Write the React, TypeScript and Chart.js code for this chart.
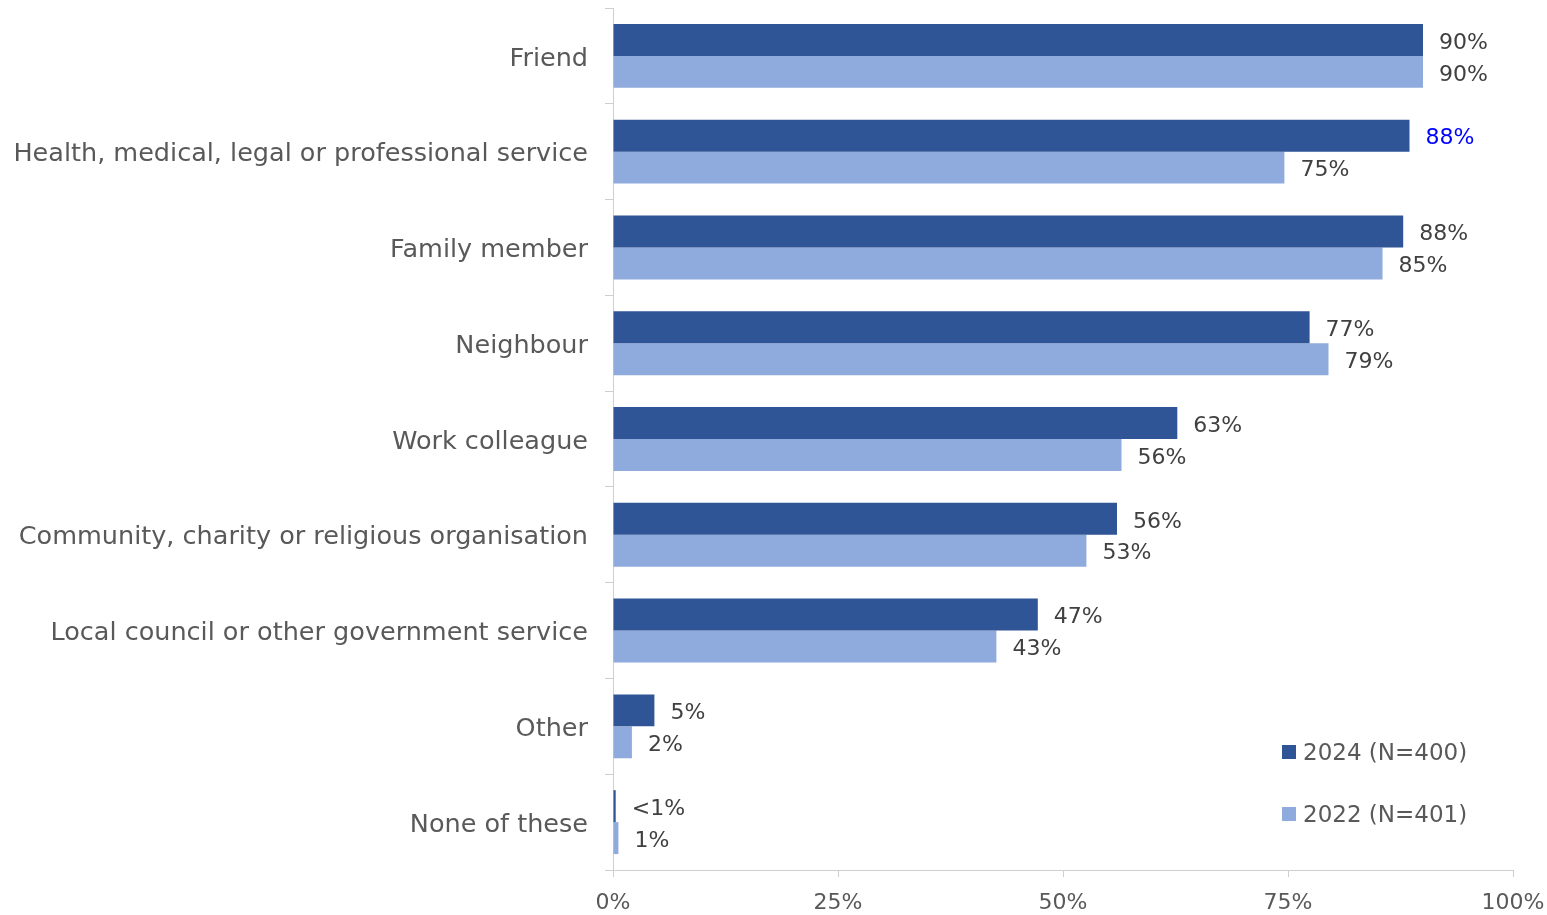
import React, { useEffect, useRef } from "react";
import { Chart, registerables } from "chart.js";

Chart.register(...registerables);

const categories = [
  "Friend",
  "Health, medical, legal or professional service",
  "Family member",
  "Neighbour",
  "Work colleague",
  "Community, charity or religious organisation",
  "Local council or other government service",
  "Other",
  "None of these",
];
const values2024 = [90, 88.5, 87.8, 77.4, 62.7, 56, 47.2, 4.6, 0.3];
const values2022 = [90, 74.6, 85.5, 79.5, 56.5, 52.6, 42.6, 2.1, 0.6];
const labels2024 = ["90%", "88%", "88%", "77%", "63%", "56%", "47%", "5%", "<1%"];
const labels2022 = ["90%", "75%", "85%", "79%", "56%", "53%", "43%", "2%", "1%"];
const labelColors2024 = ["#404040", "#0000FF", "#404040", "#404040", "#404040", "#404040", "#404040", "#404040", "#404040"];
const seriesNames = ["2024 (N=400)", "2022 (N=401)"];
const seriesColors = ["#2F5597", "#8FAADC"];
const xTicks = [0, 25, 50, 75, 100];

const FONT = "'DejaVu Sans', sans-serif";

const valueLabelPlugin = {
  id: "valueLabels",
  afterDatasetsDraw(chart: any) {
    const ctx = chart.ctx;
    ctx.save();
    ctx.font = `22px ${FONT}`;
    ctx.textAlign = "left";
    ctx.textBaseline = "middle";
    chart.data.datasets.forEach((ds: any, di: number) => {
      const meta = chart.getDatasetMeta(di);
      const texts = di === 0 ? labels2024 : labels2022;
      meta.data.forEach((bar: any, i: number) => {
        ctx.fillStyle = di === 0 ? labelColors2024[i] : "#404040";
        ctx.fillText(texts[i], bar.x + 16, bar.y + 3);
      });
    });
    ctx.restore();
  },
};

const legendPlugin = {
  id: "customLegend",
  afterDraw(chart: any) {
    const ctx = chart.ctx;
    const area = chart.chartArea;
    ctx.save();
    ctx.font = `23px ${FONT}`;
    ctx.textAlign = "left";
    ctx.textBaseline = "middle";
    seriesNames.forEach((name, i) => {
      const x = area.right - 231;
      const y = area.bottom - 118 + i * 62;
      ctx.fillStyle = seriesColors[i];
      ctx.fillRect(x, y - 7, 14, 14);
      ctx.fillStyle = "#595959";
      ctx.fillText(name, x + 21, y + 2);
    });
    ctx.restore();
  },
};

export default function App() {
  const canvasRef = useRef<HTMLCanvasElement | null>(null);

  useEffect(() => {
    document.body.style.margin = "0";
    const canvas = canvasRef.current;
    if (!canvas) return;
    const chart = new Chart(canvas, {
      type: "bar",
      data: {
        labels: categories,
        datasets: [
          {
            label: seriesNames[0],
            data: values2024,
            backgroundColor: seriesColors[0],
            categoryPercentage: 0.667,
            barPercentage: 1,
          },
          {
            label: seriesNames[1],
            data: values2022,
            backgroundColor: seriesColors[1],
            categoryPercentage: 0.667,
            barPercentage: 1,
          },
        ],
      },
      options: {
        indexAxis: "y",
        animation: false,
        responsive: false,
        maintainAspectRatio: false,
        layout: { padding: { top: 8, right: 34, bottom: 0, left: 0 } },
        plugins: {
          legend: { display: false },
          tooltip: { enabled: false },
        },
        scales: {
          y: {
            afterFit(scale: any) {
              scale.width = 613;
              scale.paddingTop = 0;
              scale.paddingBottom = 0;
            },
            grid: {
              drawOnChartArea: false,
              drawTicks: true,
              tickLength: 8,
              color: "#CFCFCF",
              offset: true,
            },
            border: { color: "#CFCFCF", width: 1 },
            ticks: {
              color: "#595959",
              font: { family: FONT, size: 25.5 },
              padding: 17,
              labelOffset: 3,
            },
          },
          x: {
            min: 0,
            max: 100,
            afterFit(scale: any) {
              scale.height = 45;
              scale.paddingLeft = 0;
              scale.paddingRight = 0;
            },
            afterBuildTicks(scale: any) {
              scale.ticks = xTicks.map((v) => ({ value: v }));
            },
            grid: {
              drawOnChartArea: false,
              drawTicks: true,
              tickLength: 7,
              color: "#CFCFCF",
            },
            border: { color: "#CFCFCF", width: 1 },
            ticks: {
              color: "#595959",
              font: { family: FONT, size: 22 },
              padding: 13,
              maxRotation: 0,
              callback: (v: any) => `${v}%`,
            },
          },
        },
      },
      plugins: [valueLabelPlugin, legendPlugin],
    } as any);
    return () => chart.destroy();
  }, []);

  return (
    <div style={{ width: 1547, height: 915 }}>
      <canvas ref={canvasRef} width={1547} height={915} style={{ width: 1547, height: 915, display: "block" }} />
    </div>
  );
}
